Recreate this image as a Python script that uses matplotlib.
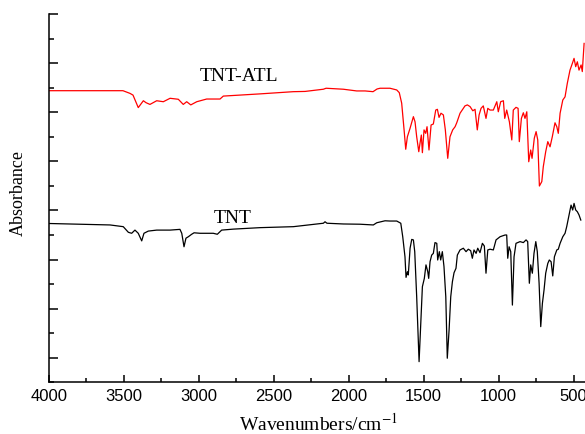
import numpy as np
import matplotlib
matplotlib.use("Agg")
import matplotlib.pyplot as plt
from matplotlib.ticker import MultipleLocator, FixedLocator, NullFormatter

# FTIR spectra (wavenumber in cm-1, absorbance in arbitrary offset units)
atl_wn = [4000, 3505, 3458, 3438, 3403, 3369, 3351, 3325, 3280, 3236, 3191, 3136, 3103, 3080,
          3053, 3013, 2947, 2858, 2836, 2591, 2369, 2291, 2169, 2151, 2036, 1947, 1891, 1838,
          1811, 1791, 1725, 1680, 1663, 1647, 1631, 1620, 1609, 1591, 1585, 1569, 1558, 1547,
          1533, 1525, 1516, 1509, 1498, 1487, 1478, 1465, 1451, 1436, 1420, 1409, 1398, 1385,
          1369, 1356, 1340, 1325, 1307, 1291, 1280, 1258, 1225, 1209, 1191, 1173, 1158, 1143,
          1131, 1118, 1103, 1085, 1073, 1058, 1036, 1013, 1003, 987, 969, 960, 947, 929, 913,
          903, 885, 871, 863, 849, 836, 825, 813, 800, 787, 778, 763, 751, 740, 729, 713, 703,
          687, 673, 658, 643, 625, 613, 603, 591, 573, 558, 543, 525, 509, 498, 487, 476, 465,
          451, 443, 431]
atl_abs = [1.189, 1.189, 1.178, 1.171, 1.120, 1.148, 1.140, 1.133, 1.148, 1.144, 1.158, 1.154,
           1.133, 1.144, 1.131, 1.144, 1.155, 1.155, 1.167, 1.176, 1.185, 1.186, 1.195, 1.199,
           1.195, 1.188, 1.188, 1.185, 1.196, 1.199, 1.199, 1.192, 1.181, 1.138, 1.029, 0.950,
           1.001, 1.036, 1.049, 1.083, 1.062, 1.001, 0.940, 0.974, 1.008, 0.936, 1.029, 1.015,
           1.042, 0.947, 1.049, 1.053, 1.110, 1.113, 1.080, 1.097, 1.090, 1.029, 0.913, 1.001,
           1.029, 1.042, 1.058, 1.097, 1.127, 1.131, 1.124, 1.107, 1.113, 1.029, 1.090, 1.117,
           1.127, 1.076, 1.117, 1.110, 1.110, 1.144, 1.103, 1.144, 1.148, 1.076, 1.110, 1.062,
           0.988, 1.110, 1.121, 1.117, 0.981, 1.076, 1.099, 1.076, 1.103, 0.899, 0.947, 0.913,
           0.995, 1.022, 0.988, 0.800, 0.818, 0.879, 0.940, 0.981, 0.960, 1.001, 1.058, 1.042,
           1.015, 1.097, 1.151, 1.164, 1.219, 1.273, 1.301, 1.321, 1.287, 1.307, 1.273, 1.294,
           1.267, 1.382]

tnt_wn = [4000, 3591, 3503, 3469, 3447, 3425, 3403, 3380, 3365, 3336, 3280, 3191, 3125, 3113,
          3098, 3085, 3069, 3047, 3031, 2991, 2903, 2876, 2847, 2769, 2591, 2369, 2169, 2158,
          2145, 2036, 1925, 1836, 1813, 1758, 1725, 1680, 1653, 1640, 1625, 1618, 1609, 1603,
          1591, 1580, 1569, 1560, 1547, 1531, 1520, 1509, 1496, 1485, 1473, 1467, 1458, 1447,
          1436, 1425, 1413, 1407, 1396, 1387, 1376, 1365, 1353, 1343, 1331, 1320, 1309, 1298,
          1285, 1276, 1258, 1236, 1218, 1203, 1187, 1176, 1165, 1151, 1140, 1125, 1109, 1096,
          1085, 1073, 1058, 1036, 1018, 991, 958, 947, 940, 931, 920, 909, 898, 885, 858, 836,
          818, 807, 796, 787, 776, 765, 753, 743, 731, 720, 709, 698, 687, 673, 663, 651, 640,
          629, 613, 603, 591, 573, 558, 547, 531, 518, 507, 498, 487, 476, 465, 453]
tnt_abs = [0.647, 0.641, 0.634, 0.611, 0.607, 0.620, 0.607, 0.576, 0.607, 0.616, 0.620, 0.620,
           0.623, 0.607, 0.552, 0.587, 0.593, 0.603, 0.609, 0.607, 0.607, 0.603, 0.620, 0.624,
           0.630, 0.634, 0.648, 0.654, 0.648, 0.645, 0.644, 0.641, 0.650, 0.658, 0.657, 0.657,
           0.648, 0.593, 0.511, 0.427, 0.450, 0.437, 0.546, 0.582, 0.580, 0.532, 0.348, 0.083,
           0.240, 0.389, 0.423, 0.478, 0.450, 0.423, 0.491, 0.518, 0.525, 0.569, 0.566, 0.498,
           0.532, 0.498, 0.532, 0.471, 0.348, 0.097, 0.212, 0.348, 0.409, 0.446, 0.464, 0.518,
           0.539, 0.546, 0.532, 0.542, 0.536, 0.505, 0.539, 0.525, 0.546, 0.528, 0.566, 0.555,
           0.444, 0.539, 0.542, 0.539, 0.580, 0.593, 0.600, 0.600, 0.505, 0.552, 0.532, 0.314,
           0.511, 0.566, 0.573, 0.569, 0.580, 0.573, 0.403, 0.478, 0.444, 0.525, 0.573, 0.532,
           0.403, 0.226, 0.321, 0.376, 0.444, 0.484, 0.498, 0.491, 0.433, 0.511, 0.539, 0.542,
           0.566, 0.593, 0.607, 0.634, 0.682, 0.722, 0.702, 0.729, 0.702, 0.695, 0.682, 0.661]

plt.rcParams["mathtext.fontset"] = "stix"
SERIF = "Liberation Serif"

fig = plt.figure(figsize=(5.85, 4.34), dpi=100)
ax = fig.add_axes([48.7/585, 1-382/434, 1-48.7/585, 368/434])

ax.plot(atl_wn, atl_abs, color="#ff0000", lw=0.9)
ax.plot(tnt_wn, tnt_abs, color="black", lw=0.9)

ax.text(2731, 1.245, "TNT-ATL", family=SERIF, fontsize=14, ha="center", va="center")
ax.text(2773, 0.668, "TNT", family=SERIF, fontsize=14, ha="center", va="center")

ax.set_xlim(4000, 425)
ax.set_ylim(0, 368/245)
ax.xaxis.set_major_locator(MultipleLocator(500))
ax.xaxis.set_minor_locator(MultipleLocator(250))
ax.yaxis.set_major_locator(FixedLocator(np.arange(0.1, 1.55, 0.2)))
ax.yaxis.set_minor_locator(FixedLocator(np.arange(0.0, 1.45, 0.2)))
ax.yaxis.set_major_formatter(NullFormatter())
ax.tick_params(axis="both", which="both", direction="in", width=1.1)
ax.tick_params(axis="x", which="major", length=5, pad=5, labelsize=12)
ax.tick_params(axis="x", which="minor", length=3)
ax.tick_params(axis="y", which="major", length=6.5)
ax.tick_params(axis="y", which="minor", length=3.6)
for lab in ax.get_xticklabels():
    lab.set_family("Liberation Sans")
for s in ["top", "right"]:
    ax.spines[s].set_visible(False)
for s in ["left", "bottom"]:
    ax.spines[s].set_linewidth(1.1)

fig.text(18.5/585, 1-192.5/434, "Absorbance", family=SERIF, fontsize=13,
         rotation=90, ha="center", va="center")
fig.text(318/585, 1-424/434, "Wavenumbers/cm$^{-1}$", family=SERIF, fontsize=14,
         ha="center", va="center")

fig.savefig("out.png", dpi=100)
